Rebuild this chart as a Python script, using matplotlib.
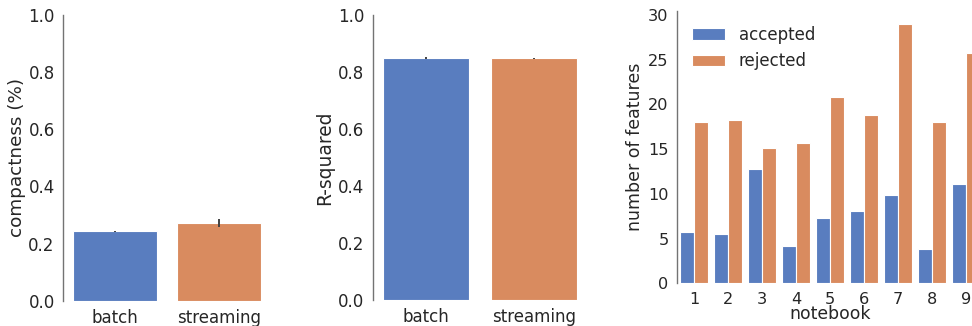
import colorsys
import numpy as np
import matplotlib
matplotlib.use("Agg")
import matplotlib.pyplot as plt
import matplotlib.colors as mcolors

# ---- data ----
methods = ["batch", "streaming"]
compactness = [0.243, 0.273]
compactness_err = [0.002, 0.014]
r_squared = [0.848, 0.847]
r_squared_err = [0.002, 0.002]

notebooks = ["1", "2", "3", "4", "5", "6", "7", "8", "9"]
accepted = [5.77, 5.55, 12.75, 4.17, 7.34, 8.09, 9.88, 3.87, 11.07]
rejected = [18.08, 18.3, 15.13, 15.69, 20.8, 18.79, 28.97, 18.0, 25.76]


def desat(c, prop=0.75):
    r, g, b = mcolors.to_rgb(c)
    h, l, s = colorsys.rgb_to_hls(r, g, b)
    return colorsys.hls_to_rgb(h, l, s * prop)


BLUE = desat("#4878D0")
ORANGE = desat("#EE854A")
TEXT = "#262626"

plt.rcParams["font.family"] = ["DejaVu Sans"]

fig = plt.figure(figsize=(9.72, 3.26), dpi=100)
W, H = 972, 326


def axes_px(x0, y_top, x1, y_bot):
    return fig.add_axes([x0 / W, (H - y_bot) / H, (x1 - x0) / W, (y_bot - y_top) / H])


def style(ax, fs):
    for s in ["top", "right", "bottom"]:
        ax.spines[s].set_visible(False)
    ax.spines["left"].set_color("0.45")
    ax.spines["left"].set_linewidth(1.0)
    ax.tick_params(axis="both", length=0, labelsize=fs, labelcolor=TEXT, pad=6)
    ax.yaxis.label.set_color(TEXT)
    ax.xaxis.label.set_color(TEXT)


# panel 1
ax1 = axes_px(63, 14.7, 271, 301)
x = np.arange(len(methods))
ax1.bar(x, compactness, width=0.8, color=[BLUE, ORANGE], edgecolor="white", linewidth=0.8)
ax1.errorbar(x, compactness, yerr=compactness_err, fmt="none", ecolor="0.26", elinewidth=1.4)
ax1.set_xlim(-0.5, 1.5)
ax1.set_ylim(0, 1.0)
ax1.set_yticks(np.arange(0, 1.01, 0.2))
ax1.set_yticklabels([f"{v:.1f}" for v in np.arange(0, 1.01, 0.2)])
ax1.set_xticks(x)
ax1.set_xticklabels(methods)
ax1.set_ylabel("compactness (%)", fontsize=13.2, labelpad=2)
style(ax1, 12)

# panel 2
ax2 = axes_px(372.7, 14.7, 587.3, 300)
ax2.bar(x, r_squared, width=0.8, color=[BLUE, ORANGE], edgecolor="white", linewidth=0.8)
ax2.errorbar(x, r_squared, yerr=r_squared_err, fmt="none", ecolor="0.26", elinewidth=1.4)
ax2.set_xlim(-0.5, 1.5)
ax2.set_ylim(0, 1.0)
ax2.set_yticks(np.arange(0, 1.01, 0.2))
ax2.set_yticklabels([f"{v:.1f}" for v in np.arange(0, 1.01, 0.2)])
ax2.set_xticks(x)
ax2.set_xticklabels(methods)
ax2.set_ylabel("R-squared", fontsize=13.4, labelpad=3)
style(ax2, 12)

# panel 3
ax3 = axes_px(677, 11, 983, 283.3)
xn = np.arange(len(notebooks))
ax3.bar(xn - 0.2, accepted, width=0.4, color=BLUE, edgecolor="white", linewidth=0.8, label="accepted")
ax3.bar(xn + 0.2, rejected, width=0.4, color=ORANGE, edgecolor="white", linewidth=0.8, label="rejected")
ax3.set_xlim(-0.5, len(notebooks) - 0.5)
ax3.set_ylim(0, 30.45)
ax3.set_yticks(np.arange(0, 31, 5))
ax3.set_xticks(xn)
ax3.set_xticklabels(notebooks)
ax3.set_xlabel("notebook", fontsize=12.4, labelpad=-1)
ax3.set_ylabel("number of features", fontsize=12.5, labelpad=3)
style(ax3, 11.6)
leg = ax3.legend(loc="upper left", frameon=False, fontsize=12)
for t in leg.get_texts():
    t.set_color(TEXT)

fig.savefig("out.png", dpi=100)
